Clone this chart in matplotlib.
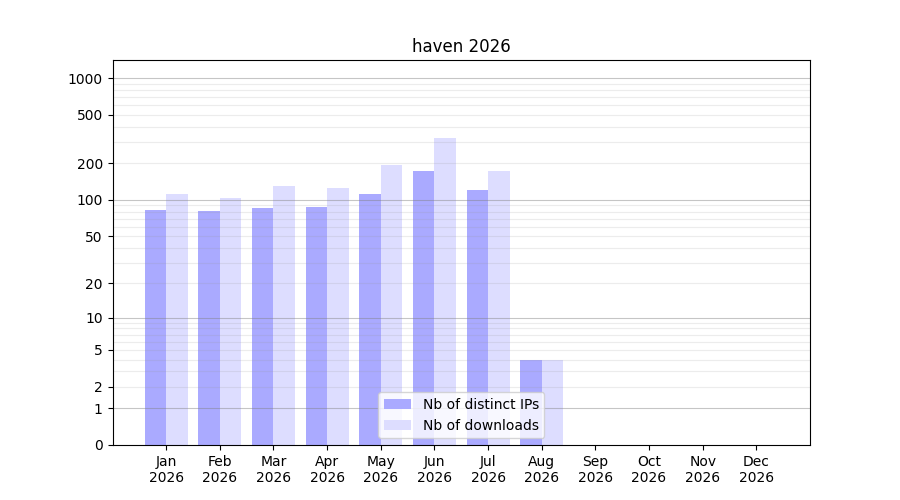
import numpy as np
import matplotlib
matplotlib.use("Agg")
import matplotlib.pyplot as plt

months = ["Jan", "Feb", "Mar", "Apr", "May", "Jun", "Jul", "Aug", "Sep", "Oct", "Nov", "Dec"]
year = "2026"
distinct_ips = [82, 81, 86, 87, 112, 173, 121, 4, 0, 0, 0, 0]
downloads = [112, 104, 129, 125, 194, 323, 173, 4, 0, 0, 0, 0]
ytick_values = [0, 1, 2, 5, 10, 20, 50, 100, 200, 500, 1000]
major_grid = [1, 10, 100, 1000]
minor_grid = [m * 10 ** k for k in range(3) for m in range(2, 10)]

fig, ax = plt.subplots(figsize=(9, 5), dpi=100)
ax.set_yscale("function", functions=(lambda v: np.log10(np.maximum(v, -0.999) + 1),
                                     lambda v: 10 ** v - 1))
x = np.arange(len(months))
w = 0.4
ax.bar(x - w / 2, distinct_ips, w, color="#aaaaff", label="Nb of distinct IPs", zorder=1)
ax.bar(x + w / 2, downloads, w, color="#ddddff", label="Nb of downloads", zorder=1)

for v in minor_grid:
    ax.axhline(v, color="0.6", alpha=0.18, lw=0.8, zorder=2)
for v in major_grid:
    ax.axhline(v, color="0.5", alpha=0.45, lw=0.8, zorder=2)

ax.set_yticks(ytick_values)
ax.set_yticklabels([str(v) for v in ytick_values])
ax.yaxis.set_minor_locator(matplotlib.ticker.NullLocator())
ax.set_ylim(0, 1405)
ax.set_xlim(-1, 12)
ax.set_xticks(x)
ax.set_xticklabels([f"{m}\n{year}" for m in months])
ax.set_title("haven 2026")
ax.legend(loc="lower center")
fig.savefig("out.png", dpi=100)
